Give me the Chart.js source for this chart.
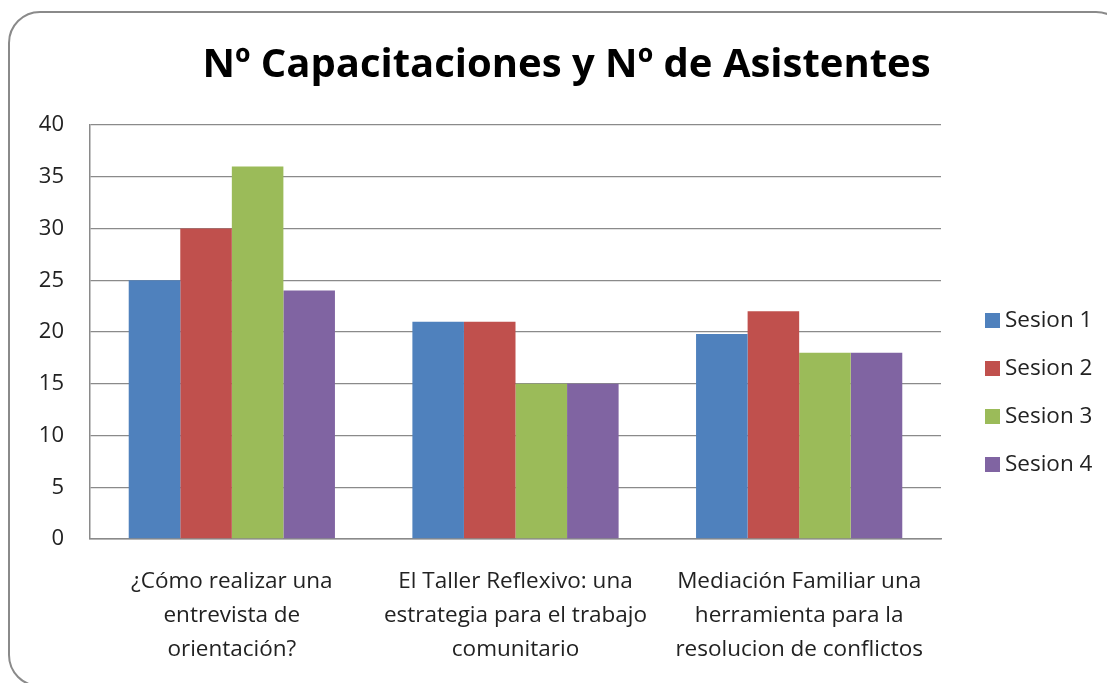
<!DOCTYPE html>
<html><head><meta charset="utf-8">
<script src="https://cdn.jsdelivr.net/npm/chart.js@4/dist/chart.umd.min.js"></script>
<style>
html,body{margin:0;padding:0;background:#fff;overflow:hidden;}
#wrap{position:relative;width:1107px;height:683px;}
#frame{position:absolute;left:8px;top:11px;width:1120px;height:676px;border:2px solid #8a8a8a;border-radius:32px;box-sizing:border-box;}
canvas{position:absolute;left:0;top:0;}
</style></head>
<body><div id="wrap"><div id="frame"></div><canvas id="c" width="1107" height="683"></canvas></div>
<script>
const categories = [
  ["¿Cómo realizar una", "entrevista de", "orientación?"],
  ["El Taller Reflexivo: una", "estrategia para el trabajo", "comunitario"],
  ["Mediación Familiar una", "herramienta para la", "resolucion de conflictos"]
];
const seriesNames = ["Sesion 1", "Sesion 2", "Sesion 3", "Sesion 4"];
const sesion1 = [25, 21, 19.8];
const sesion2 = [30, 21, 22];
const sesion3 = [36, 15, 18];
const sesion4 = [24, 15, 18];
const yTicks = [0, 5, 10, 15, 20, 25, 30, 35, 40];
const colors = ["#4F81BD", "#C0504D", "#9BBB59", "#8064A2"];

const seriesValues = [sesion1, sesion2, sesion3, sesion4];
const FONT = "'Open Sans', Lato, sans-serif";

const legendPlugin = {
  id: 'customLegend',
  afterDraw(chart) {
    const ctx = chart.ctx;
    ctx.save();
    ctx.font = "22.5px " + FONT;
    ctx.textBaseline = "middle";
    ctx.textAlign = "left";
    chart.data.datasets.forEach((ds, i) => {
      const cy = 321 + 48 * i;
      ctx.fillStyle = ds.backgroundColor;
      ctx.fillRect(985, cy - 8, 15, 15);
      ctx.fillStyle = "#222";
      ctx.fillText(ds.label, 1005, cy);
    });
    ctx.restore();
  }
};

new Chart(document.getElementById('c'), {
  type: 'bar',
  data: {
    labels: categories,
    datasets: seriesNames.map((n, i) => ({
      label: n,
      data: seriesValues[i],
      backgroundColor: colors[i],
      borderWidth: 0,
      categoryPercentage: 0.727,
      barPercentage: 1.0
    }))
  },
  options: {
    responsive: false,
    animation: false,
    devicePixelRatio: 1,
    layout: { padding: { left: 26, right: 0, top: 0, bottom: 0 } },
    plugins: {
      legend: { display: false },
      tooltip: { enabled: false },
      title: {
        display: true,
        text: "Nº Capacitaciones y Nº de Asistentes",
        color: "#000",
        font: { family: FONT, size: 40, weight: "bold", lineHeight: 1.2 },
        padding: { top: 42, bottom: 35 }
      }
    },
    scales: {
      x: {
        grid: { display: false, drawTicks: false },
        border: { color: "#8a8a8a", width: 1.5 },
        afterFit: (s) => { s.height = 144; },
        ticks: {
          color: "#222",
          font: { family: FONT, size: 22.5, lineHeight: "34px" },
          padding: 26,
          maxRotation: 0,
          autoSkip: false
        }
      },
      y: {
        min: 0, max: 40,
        afterBuildTicks: (s) => { s.ticks = yTicks.map(v => ({ value: v })); },
        afterFit: (s) => { s.width = 64; },
        grid: { color: "#8a8a8a", lineWidth: 1.3, drawTicks: false },
        border: { color: "#8a8a8a", width: 1.5 },
        ticks: {
          color: "#222",
          font: { family: FONT, size: 22 },
          padding: 26
        }
      },
      yRight: {
        type: 'linear',
        position: 'right',
        display: true,
        afterFit: (s) => { s.width = 166; },
        grid: { display: false, drawTicks: false },
        border: { display: false },
        ticks: { display: false }
      }
    }
  },
  plugins: [legendPlugin]
});
</script></body></html>
